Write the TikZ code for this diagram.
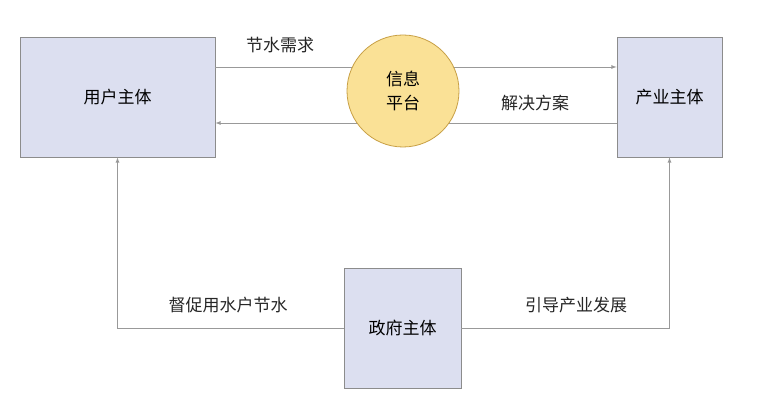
\documentclass[tikz,border=0pt]{standalone}
\usepackage{fontspec}
\setmainfont{Noto Sans CJK SC}
\begin{document}
\begin{tikzpicture}[x=1pt,y=-1pt,
  box/.style={draw=black!45,fill={rgb,255:red,220;green,223;blue,240},line width=0.8pt,inner sep=0pt},
  conn/.style={draw=black!40,line width=0.8pt,-latex},
  lbl/.style={font=\fontsize{17}{20}\selectfont,text=black!85}]
\useasboundingbox (0,0) rectangle (768,411);
\fill[white] (0,0) rectangle (768,411);
\node[box,minimum width=195pt,minimum height=120pt] (user) at (117.5,97) {\fontsize{17}{20}\selectfont 用户主体};
\node[box,minimum width=105pt,minimum height=120pt] (ind) at (669.5,97) {\fontsize{17}{20}\selectfont 产业主体};
\node[box,minimum width=117pt,minimum height=120pt] (gov) at (402.5,328) {\fontsize{17}{20}\selectfont 政府主体};
\coordinate (ua) at (user.east |- 0,67);
\coordinate (ia) at (ind.west |- 0,67);
\coordinate (ub) at (user.east |- 0,123);
\coordinate (ib) at (ind.west |- 0,123);
\draw[conn] (ua) -- (ia);
\draw[conn] (ib) -- (ub);
\node[circle,draw={rgb,255:red,200;green,160;blue,70},fill={rgb,255:red,250;green,225;blue,150},line width=0.8pt,minimum size=112pt,align=center,font=\fontsize{17}{24}\selectfont] (plat) at (403,91) {信息\\平台};
\node[lbl] (l1) at (280,45) {节水需求};
\node[lbl] (l2) at (535,103) {解决方案};
\draw[conn] (gov.west) -| (user.south);
\draw[conn] (gov.east) -| (ind.south);
\node[lbl] (l3) at (228,305) {督促用水户节水};
\node[lbl] (l4) at (576,305) {引导产业发展};
\end{tikzpicture}
\end{document}
